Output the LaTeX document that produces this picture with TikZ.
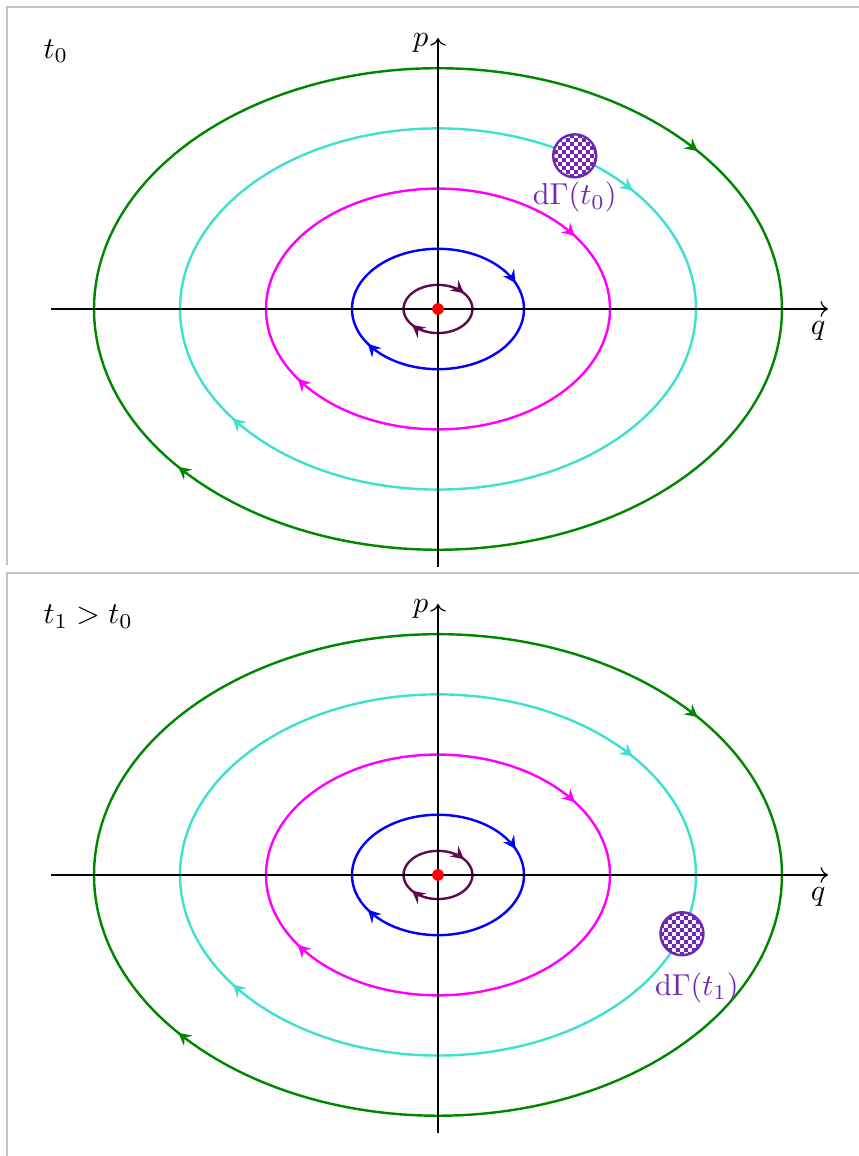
\documentclass[tikz,border=0pt]{standalone}
\usepackage{amsmath}
\usetikzlibrary{arrows.meta,decorations.markings,patterns}

\definecolor{orbitpurple}{RGB}{95,10,75}
\definecolor{orbitmagenta}{RGB}{255,0,255}
\definecolor{orbitcyan}{RGB}{64,224,208}
\definecolor{orbitgreen}{RGB}{0,135,0}
\definecolor{cellviolet}{RGB}{110,40,180}

% small checkerboard for the phase-space cell
\pgfdeclarepatternformonly{fine checker}{\pgfqpoint{0pt}{0pt}}{\pgfqpoint{2.6pt}{2.6pt}}{\pgfqpoint{2.6pt}{2.6pt}}{%
  \pgfpathrectangle{\pgfqpoint{0pt}{0pt}}{\pgfqpoint{1.3pt}{1.3pt}}%
  \pgfpathrectangle{\pgfqpoint{1.3pt}{1.3pt}}{\pgfqpoint{1.3pt}{1.3pt}}%
  \pgfusepath{fill}}

\begin{document}
\begin{tikzpicture}[frame/.style={draw=black!23,line width=0.6pt}, axis/.style={->}, orbit/.style={thick,postaction={decorate}}, flow/.tip={Stealth[length=4.2pt,width=4.4pt,inset=1.5pt]}, cell/.style={circle,draw=cellviolet,thick,preaction={fill=white},pattern=fine checker,pattern color=cellviolet,minimum size=0.5cm,inner sep=0pt}]
\useasboundingbox (-5.093,-9.849) rectangle (4.884,3.593);
\foreach \dy/\lab/\ang/\tm/\lx/\ly/\fb [count=\i] in {0/t_0/58/0/1.59/1.30/-2.98, -6.581/t_1>t_0/-19/1/3.01/-1.31/-3.4}{
\begin{scope}[yshift=\dy cm]
\draw[frame] (4.95,3.512) -- (-5.012,3.512) -- (-5.012,\fb);
\node[anchor=west] (title\i) at (-4.71,3.0) {$\lab$};
% orbits, clockwise
\foreach \r/\col/\pa/\pb in {0.4/orbitpurple/0.15/0.65, 1/blue/0.19/0.665, 2/orbitmagenta/0.16/0.665, 3/orbitcyan/0.15/0.66, 4/orbitgreen/0.15/0.65}
  \draw[orbit,\col,decoration={markings,mark=at position \pa with {\arrow{flow}},mark=at position \pb with {\arrow{flow}}}]
    plot[domain=90:-270,samples=181] ({\r*cos(\x)},{0.7*\r*sin(\x)}) -- cycle;
\coordinate (qa\i) at (-4.5,0); \coordinate (qb\i) at (4.535,0);
\coordinate (pa\i) at (0,-3); \coordinate (pb\i) at (0,3.15);
\draw[axis] (qa\i) -- (qb\i);
\draw[axis] (pa\i) -- (pb\i);
\node (q\i) at (4.42,-0.25) {$q$};
\node (p\i) at (-0.2,3.09) {$p$};
\fill[red] (0,0) circle (0.068);
\node[cell] (cell\i) at ({3*cos(\ang)},{2.1*sin(\ang)}) {};
\node[text=cellviolet] (celllab\i) at (\lx,\ly) {$\mathrm{d}\Gamma(t_\tm)$};
\end{scope}
}
\end{tikzpicture}
\end{document}
